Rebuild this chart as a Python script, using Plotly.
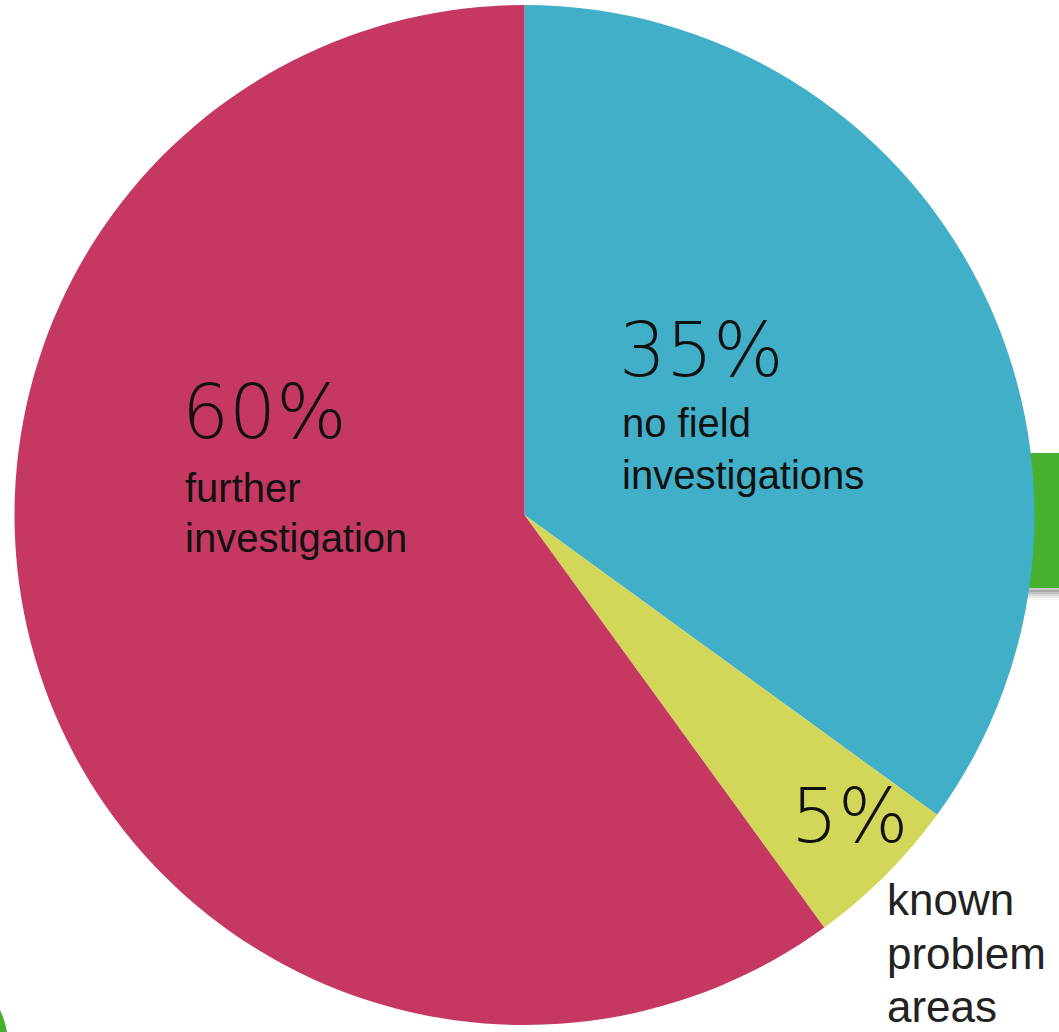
import plotly.graph_objects as go

# Survey outcome shares
categories = ["no field investigations", "known problem areas", "further investigation"]
values = [35, 5, 60]
pct_labels = ["35%", "5%", "60%"]
colors = ["#41afc8", "#d2d75a", "#c43862"]

W, H = 1059, 1032

fig = go.Figure()
fig.add_trace(go.Pie(
    labels=categories,
    values=values,
    sort=False,
    direction="clockwise",
    rotation=0,
    marker=dict(colors=colors, line=dict(width=0)),
    textinfo="none",
    hoverinfo="label+percent",
    showlegend=False,
    domain=dict(x=[14.5 / W, 1034.5 / W], y=[(H - 1025) / H, (H - 5) / H]),
))


def px(x):
    return x / W


def py(y):
    return 1 - y / H


shapes = []
# soft drop shadow under the green tab
for i, a in enumerate([0.22, 0.15, 0.10, 0.06, 0.03]):
    shapes.append(dict(type="rect", xref="paper", yref="paper", layer="below",
                       x0=px(1020), x1=px(1059), y0=py(590 + 2 * (i + 1)), y1=py(588 + 2 * i),
                       fillcolor=f"rgba(0,0,0,{a})", line=dict(width=0)))
# green tab behind the pie
shapes.append(dict(type="rect", xref="paper", yref="paper", layer="below",
                   x0=px(1000), x1=px(1059), y0=py(588), y1=py(453),
                   fillcolor="#47b02e", line=dict(width=0)))
# green sliver in the lower-left corner
shapes.append(dict(type="path", xref="paper", yref="paper", layer="below",
                   path=f"M {px(0)} {py(1032)} L {px(0)} {py(1010)} Q {px(5)} {py(1020)} {px(7)} {py(1032)} Z",
                   fillcolor="#47b02e", line=dict(width=0)))

big_font = dict(family="DejaVu Sans", size=74, color="#111111", weight=200)
label_font = dict(family="Liberation Sans", size=40, color="#111111")
side_font = dict(family="Liberation Sans", size=44, color="#222222")

annotations = []


def add_text(text, x, y, font):
    annotations.append(dict(text=text, x=px(x), y=py(y), xref="paper", yref="paper",
                            xanchor="left", yanchor="middle", showarrow=False,
                            font=font))


add_text(pct_labels[2], 180, 412, big_font)
add_text("further", 183, 488, label_font)
add_text("investigation", 183, 538, label_font)

add_text(pct_labels[0], 617, 350, big_font)
add_text("no field", 620, 423, label_font)
add_text("investigations", 620, 475, label_font)

add_text(pct_labels[1], 789, 816, big_font)
add_text("known", 885, 899, side_font)
add_text("problem", 885, 953, side_font)
add_text("areas", 885, 1006, side_font)

fig.update_layout(
    width=W, height=H,
    margin=dict(l=0, r=0, t=0, b=0),
    paper_bgcolor="white",
    plot_bgcolor="white",
    shapes=shapes,
    annotations=annotations,
)

fig.write_html("out.html")
